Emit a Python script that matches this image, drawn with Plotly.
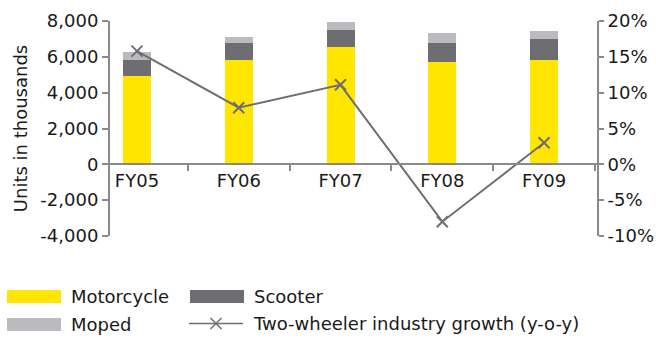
import plotly.graph_objects as go

# Fiscal years and unit volumes (thousands)
years = ["FY05", "FY06", "FY07", "FY08", "FY09"]
motorcycle = [4930, 5810, 6540, 5700, 5810]
scooter = [880, 950, 950, 1060, 1170]
moped = [450, 335, 440, 560, 450]
# Year-on-year growth of the two-wheeler industry
growth = [0.158, 0.079, 0.111, -0.080, 0.030]

units_ticks = [-4000, -2000, 0, 2000, 4000, 6000, 8000]
growth_ticks = [-0.10, -0.05, 0.0, 0.05, 0.10, 0.15, 0.20]

YELLOW = "#FFE600"
DARK = "#6E6E72"
LIGHT = "#BBBBBF"
LINE = "#6E6E6E"
AXIS = "#8A8A8A"
TEXT = "#1A1A1A"
FONT = "DejaVu Sans"

W, H = 656, 338
ML, MR, MT, MB = 110, 59, 21, 102
PW, PH = W - ML - MR, H - MT - MB


def fx(px):
    return (px - ML) / PW


def fy(py):
    return (MT + PH - py) / PH


def fmt_units(v):
    return f"{v:,}"


def fmt_pct(v):
    return f"{round(v * 100)}%"


fig = go.Figure()
fig.add_bar(x=years, y=motorcycle, name="Motorcycle", marker_color=YELLOW,
            marker_line_width=0, width=0.275)
fig.add_bar(x=years, y=scooter, name="Scooter", marker_color=DARK,
            marker_line_width=0, width=0.275)
fig.add_bar(x=years, y=moped, name="Moped", marker_color=LIGHT,
            marker_line_width=0, width=0.275)
fig.add_scatter(x=years, y=growth, yaxis="y2", mode="lines+markers",
                name="Two-wheeler industry growth (y-o-y)",
                line=dict(color=LINE, width=2),
                marker=dict(symbol="x-thin-open", size=11,
                            line=dict(color=LINE, width=2), color=LINE))

u_min, u_max = units_ticks[0], units_ticks[-1]
zero_pos = (0 - u_min) / (u_max - u_min)

fig.update_layout(
    width=W, height=H,
    margin=dict(l=ML, r=MR, t=MT, b=MB, pad=0, autoexpand=False),
    paper_bgcolor="white", plot_bgcolor="white",
    barmode="stack", showlegend=False,
    font=dict(family=FONT, size=18, color=TEXT),
    xaxis=dict(type="category", range=[-0.265, 4.52],
               anchor="free", position=zero_pos, automargin=False,
               showline=True, linecolor=AXIS, linewidth=2,
               ticks="outside", ticklen=6, tickwidth=1.5, tickcolor=AXIS,
               tickson="boundaries", showgrid=False, zeroline=False,
               tickfont=dict(size=18, color=TEXT)),
    yaxis=dict(range=[u_min, u_max], tickvals=units_ticks,
               ticktext=[fmt_units(v) for v in units_ticks],
               automargin=False,
               showline=True, linecolor=AXIS, linewidth=2,
               ticks="outside", ticklen=6, tickwidth=1.5, tickcolor=AXIS,
               showgrid=False, zeroline=False,
               title=dict(text="Units in thousands", standoff=8,
                          font=dict(size=18, color=TEXT)),
               tickfont=dict(size=18, color=TEXT)),
    yaxis2=dict(range=[growth_ticks[0], growth_ticks[-1]], overlaying="y",
                side="right", tickvals=growth_ticks,
                ticktext=[fmt_pct(v) for v in growth_ticks],
                automargin=False,
                showline=True, linecolor=AXIS, linewidth=2,
                ticks="outside", ticklen=5, tickwidth=1.5, tickcolor=AXIS,
                showgrid=False, zeroline=False,
                tickfont=dict(size=18, color=TEXT)),
)

# Legend below the plot: swatches, line sample and labels
legend_items = [
    ("Motorcycle", "bar", YELLOW, 7, 296.5),
    ("Scooter", "bar", DARK, 190, 296.5),
    ("Moped", "bar", LIGHT, 7, 324.5),
    ("Two-wheeler industry growth (y-o-y)", "line", LINE, 189, 323.5),
]
shapes = []
annotations = []
for label, kind, color, x0, yc in legend_items:
    x1 = x0 + 54
    if kind == "bar":
        shapes.append(dict(type="rect", xref="paper", yref="paper",
                           x0=fx(x0), x1=fx(x1), y0=fy(yc + 6.5), y1=fy(yc - 6.5),
                           fillcolor=color, line_width=0))
    else:
        shapes.append(dict(type="line", xref="paper", yref="paper",
                           x0=fx(x0), x1=fx(x1), y0=fy(yc), y1=fy(yc),
                           line=dict(color=color, width=1.5)))
        xc, r = (x0 + x1) / 2, 5.5
        for s in (1, -1):
            shapes.append(dict(type="line", xref="paper", yref="paper",
                               x0=fx(xc - r), x1=fx(xc + r),
                               y0=fy(yc - s * r), y1=fy(yc + s * r),
                               line=dict(color=color, width=1.5)))
    annotations.append(dict(text=label, xref="paper", yref="paper",
                            x=fx(x1 + 8), y=fy(yc), xanchor="left",
                            yanchor="middle", showarrow=False,
                            font=dict(size=18, color=TEXT, family=FONT)))

fig.update_layout(shapes=shapes, annotations=annotations)
fig.write_html("out.html")
